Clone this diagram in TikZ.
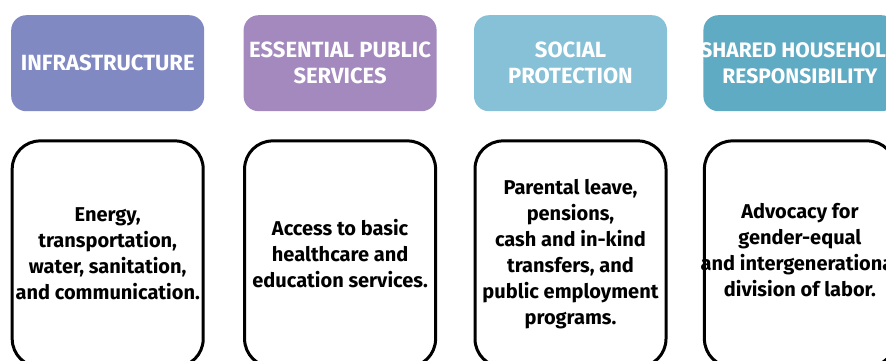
\documentclass[tikz,border=0pt]{standalone}
\usepackage{fontspec}
\setmainfont{Fira Sans}
\usetikzlibrary{positioning}

\definecolor{infracol}{HTML}{8189C3}
\definecolor{servcol}{HTML}{A389BE}
\definecolor{protcol}{HTML}{87C1D7}
\definecolor{housecol}{HTML}{60ABC4}

\begin{document}
\begin{tikzpicture}[x=1pt, y=1pt, node distance=37pt,
  head/.style={rounded corners=15pt, minimum width=193pt, minimum height=96pt, inner sep=0pt,
    align=center, text=white, font=\bfseries\fontsize{22}{26}\selectfont},
  headtext/.style={inner sep=0pt, align=center, text=white, font=\bfseries\fontsize{21}{26}\selectfont},
  body/.style={draw, line width=3pt, rounded corners=28pt, minimum width=191pt, minimum height=226pt,
    inner sep=0pt, align=center, font=\bfseries\fontsize{20}{26}\selectfont},
  bodytext/.style={inner sep=0pt, align=center, font=\bfseries\fontsize{20}{26}\selectfont}]
\useasboundingbox (0,0) rectangle (886,-360);
\clip (0,0) rectangle (886,-360);

\node[head, fill=infracol, anchor=north west] (infra) at (11,-15) {INFRASTRUCTURE};
\node[head, fill=servcol, right=39pt of infra] (serv) {ESSENTIAL PUBLIC\\SERVICES};
\node[head, fill=protcol, right=37pt of serv] (prot) {SOCIAL\\PROTECTION};
\node[head, fill=housecol, right=36pt of prot] (house) {};
\node[headtext] (housetitle) at (house) {SHARED HOUSEHOLD\\RESPONSIBILITY};

\node[body, below=28pt of infra] (infrabox) {Energy,\\transportation,\\water, sanitation,\\and communication.};
\node[body, below=28pt of serv] (servbox) {Access to basic\\healthcare and\\education services.};
\node[body, below=28pt of prot] (protbox) {Parental leave,\\pensions,\\cash and in-kind\\transfers, and\\public employment\\programs.};
\node[body, below=28pt of house] (housebox) {};
\node[bodytext] (housetxt) at ([yshift=4pt]housebox) {Advocacy for\\gender-equal\\and intergenerational\\division of labor.};
\end{tikzpicture}
\end{document}
